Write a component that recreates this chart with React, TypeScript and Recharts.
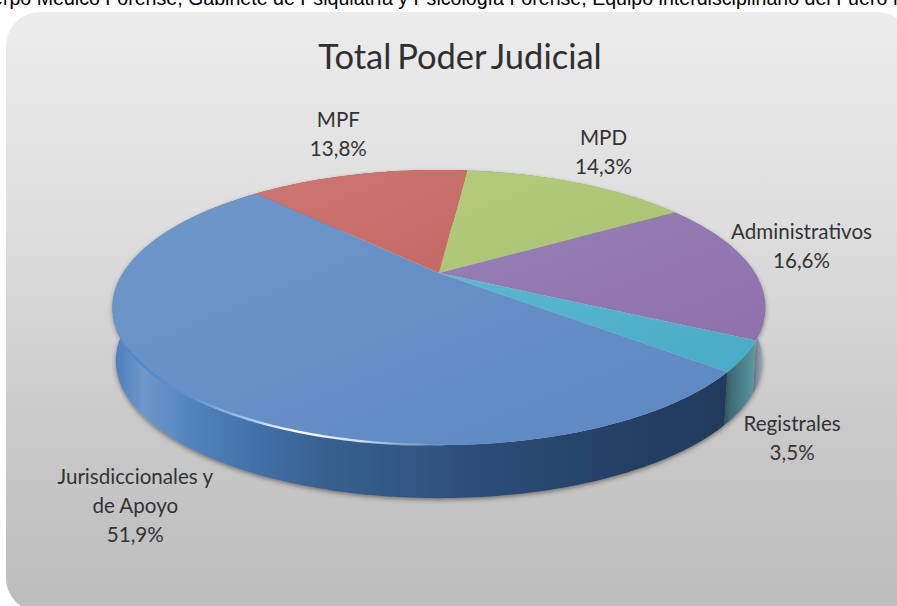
import { Pie, PieChart } from 'recharts';

const categories = ['MPD', 'Administrativos', 'Registrales', 'Jurisdiccionales y\nde Apoyo', 'MPF'];
const shares = [14.3, 16.6, 3.5, 51.9, 13.8];
const wallGradients = ['wallGreen', 'wallPurple', 'wallTeal', 'wallBlue', 'wallRed'];
// label shift from the rim point at the middle of each slice
const labelShiftX = [26, 50, 48, -38, -20];
const labelShiftY = [-38, -29, 75, 97, -47];

const WIDTH = 897;
const HEIGHT = 606;
const CX = 439;
const CY = 273;
const RADIUS = 316;
const SQUASH = 0.408;
const PERSPECTIVE = 0.251;
const DEPTH = 53;

const data = categories.map((name, i) => ({ name, value: shares[i] }));

// circle of the pie -> tilted disc in perspective
function project(cx: number, cy: number, r: number, deg: number) {
  const a = (deg * Math.PI) / 180;
  const u = Math.cos(a);
  const v = Math.sin(a);
  const k = 1 + PERSPECTIVE * v;
  return { x: cx + (r * u) / k, y: cy - (r * SQUASH * v) / k };
}

function rim(cx: number, cy: number, r: number, from: number, to: number) {
  const steps = Math.max(2, Math.ceil(Math.abs(to - from)));
  const pts = [];
  for (let i = 0; i <= steps; i++) {
    pts.push(project(cx, cy, r, from + ((to - from) * i) / steps));
  }
  return pts;
}

const toPath = (pts: { x: number; y: number }[]) =>
  pts.map((p, i) => `${i ? 'L' : 'M'}${p.x.toFixed(2)} ${p.y.toFixed(2)}`).join(' ');

function TopSlice(props: any) {
  const { cx, cy, outerRadius, startAngle, endAngle, index } = props;
  const edge = rim(cx, cy, outerRadius, startAngle, endAngle);
  const d = `M${cx} ${cy} ${toPath(edge).replace('M', 'L')} Z`;
  return (
    <g>
      <path d={d} fill={`url(#top${index})`} />
      {/* light catching the front edge, only the big slice has it */}
      {index === 3 && (
        <path
          d={toPath(rim(cx, cy, outerRadius, -165, -80))}
          fill="none"
          stroke="url(#rimLight)"
          strokeWidth={2.4}
        />
      )}
    </g>
  );
}

function WallSlice(props: any) {
  const { cx, cy, outerRadius, startAngle, endAngle, index } = props;
  const edge = rim(cx, cy, outerRadius, startAngle, endAngle);
  const low = edge.map((p) => ({ x: cx + (p.x - cx) * 0.99, y: p.y + DEPTH })).reverse();
  return (
    <path
      d={`${toPath(edge)} ${toPath(low).replace('M', 'L')} Z`}
      fill={`url(#${wallGradients[index]})`}
      filter="url(#wallShadow)"
    />
  );
}

function SliceLabel(props: any) {
  const { cx, cy, outerRadius, midAngle, name, value, index } = props;
  const p = project(cx, cy, outerRadius, midAngle);
  const x = p.x + labelShiftX[index];
  const y = p.y + labelShiftY[index];
  const lines = [...String(name).split('\n'), `${Number(value).toFixed(1).replace('.', ',')}%`];
  return (
    <text x={x} y={y} textAnchor="middle" fontFamily="Lato" fontSize={20.6} fill="#333">
      {lines.map((line, i) => (
        <tspan key={line} x={x} dy={i ? 29 : 0}>
          {line}
        </tspan>
      ))}
    </text>
  );
}

export default function App() {
  return (
    <div style={{ position: 'fixed', left: 0, top: 0, width: WIDTH, height: HEIGHT, overflow: 'hidden', background: '#fff' }}>
      <div
        style={{
          position: 'absolute',
          left: -33,
          top: -13,
          whiteSpace: 'nowrap',
          fontFamily: 'Liberation Sans',
          fontSize: 19.6,
          color: '#000',
        }}
      >
        Cuerpo Medico Forense, Gabinete de Psiquiatría y Psicología Forense, Equipo interdisciplinario del Fuero fe
      </div>
      <div
        style={{
          position: 'absolute',
          left: 6,
          top: 12,
          width: 905,
          height: 600,
          borderRadius: 34,
          background: 'linear-gradient(180deg, #ececec 0%, #dedede 35%, #c9c9c9 70%, #bcbcbc 100%)',
        }}
      />
      <div
        style={{
          position: 'absolute',
          left: 0,
          top: 35,
          width: 920,
          textAlign: 'center',
          fontFamily: 'Lato',
          fontSize: 34.5,
          wordSpacing: -3,
          color: '#2f2f2f',
        }}
      >
        Total Poder Judicial
      </div>
      <div style={{ position: 'absolute', left: 0, top: 0 }}>
        <PieChart width={WIDTH} height={HEIGHT} margin={{ top: 0, right: 0, bottom: 0, left: 0 }}>
          <defs>
            <linearGradient id="top0" x1="0" y1="0" x2="1" y2="1">
              <stop offset="0" stopColor="#b4cb7c" />
              <stop offset="1" stopColor="#a9c373" />
            </linearGradient>
            <linearGradient id="top1" x1="0" y1="0" x2="1" y2="1">
              <stop offset="0" stopColor="#9580b6" />
              <stop offset="1" stopColor="#8f70ab" />
            </linearGradient>
            <linearGradient id="top2" x1="0" y1="0" x2="1" y2="1">
              <stop offset="0" stopColor="#5ab8cf" />
              <stop offset="1" stopColor="#49abc6" />
            </linearGradient>
            <linearGradient id="top3" x1="0" y1="0" x2="1" y2="1">
              <stop offset="0" stopColor="#6f97c9" />
              <stop offset="1" stopColor="#5c88c2" />
            </linearGradient>
            <linearGradient id="top4" x1="0" y1="0" x2="1" y2="1">
              <stop offset="0" stopColor="#cd7773" />
              <stop offset="1" stopColor="#c66863" />
            </linearGradient>
            <linearGradient id="wallBlue" x1="0" y1="0" x2="1" y2="0">
              <stop offset="0" stopColor="#4a7cb8" />
              <stop offset="0.05" stopColor="#6f98ca" />
              <stop offset="0.12" stopColor="#5585bd" />
              <stop offset="0.22" stopColor="#4472ab" />
              <stop offset="0.35" stopColor="#37608f" />
              <stop offset="0.6" stopColor="#2c4d78" />
              <stop offset="0.85" stopColor="#253f63" />
              <stop offset="1" stopColor="#223a5c" />
            </linearGradient>
            <linearGradient id="wallTeal" x1="0" y1="0" x2="1" y2="0">
              <stop offset="0" stopColor="#34606e" />
              <stop offset="1" stopColor="#5f9a9f" />
            </linearGradient>
            <linearGradient id="wallPurple" x1="0" y1="0" x2="1" y2="0">
              <stop offset="0.85" stopColor="#6a8094" />
              <stop offset="0.97" stopColor="#9aa2b4" />
              <stop offset="1" stopColor="#b8bac8" />
            </linearGradient>
            <linearGradient id="wallGreen" x1="0" y1="0" x2="1" y2="0">
              <stop offset="0" stopColor="#8aa35a" />
              <stop offset="1" stopColor="#8aa35a" />
            </linearGradient>
            <linearGradient id="wallRed" x1="0" y1="0" x2="1" y2="0">
              <stop offset="0" stopColor="#a0504c" />
              <stop offset="1" stopColor="#a0504c" />
            </linearGradient>
            <linearGradient id="rimLight" x1="0" y1="0" x2="1" y2="0">
              <stop offset="0" stopColor="#4d88cf" stopOpacity="0" />
              <stop offset="0.06" stopColor="#4d88cf" />
              <stop offset="0.2" stopColor="#5d93d2" />
              <stop offset="0.34" stopColor="#a5c5ea" />
              <stop offset="0.46" stopColor="#ffffff" />
              <stop offset="0.62" stopColor="#c8dcf2" />
              <stop offset="0.85" stopColor="#8fb4e0" stopOpacity="0" />
            </linearGradient>
            <filter id="wallShadow" x="-10%" y="-10%" width="120%" height="125%">
              <feDropShadow dx="0" dy="2" stdDeviation="2" floodColor="#3a3028" floodOpacity="0.55" />
            </filter>
          </defs>
          <Pie
            data={data}
            dataKey="value"
            nameKey="name"
            cx={CX}
            cy={CY}
            outerRadius={RADIUS}
            startAngle={83.6}
            endAngle={-276.4}
            stroke="none"
            shape={WallSlice}
            isAnimationActive={false}
          />
          <Pie
            data={data}
            dataKey="value"
            nameKey="name"
            cx={CX}
            cy={CY}
            outerRadius={RADIUS}
            startAngle={83.6}
            endAngle={-276.4}
            stroke="none"
            shape={TopSlice}
            label={SliceLabel}
            labelLine={false}
            isAnimationActive={false}
          />
        </PieChart>
      </div>
    </div>
  );
}
